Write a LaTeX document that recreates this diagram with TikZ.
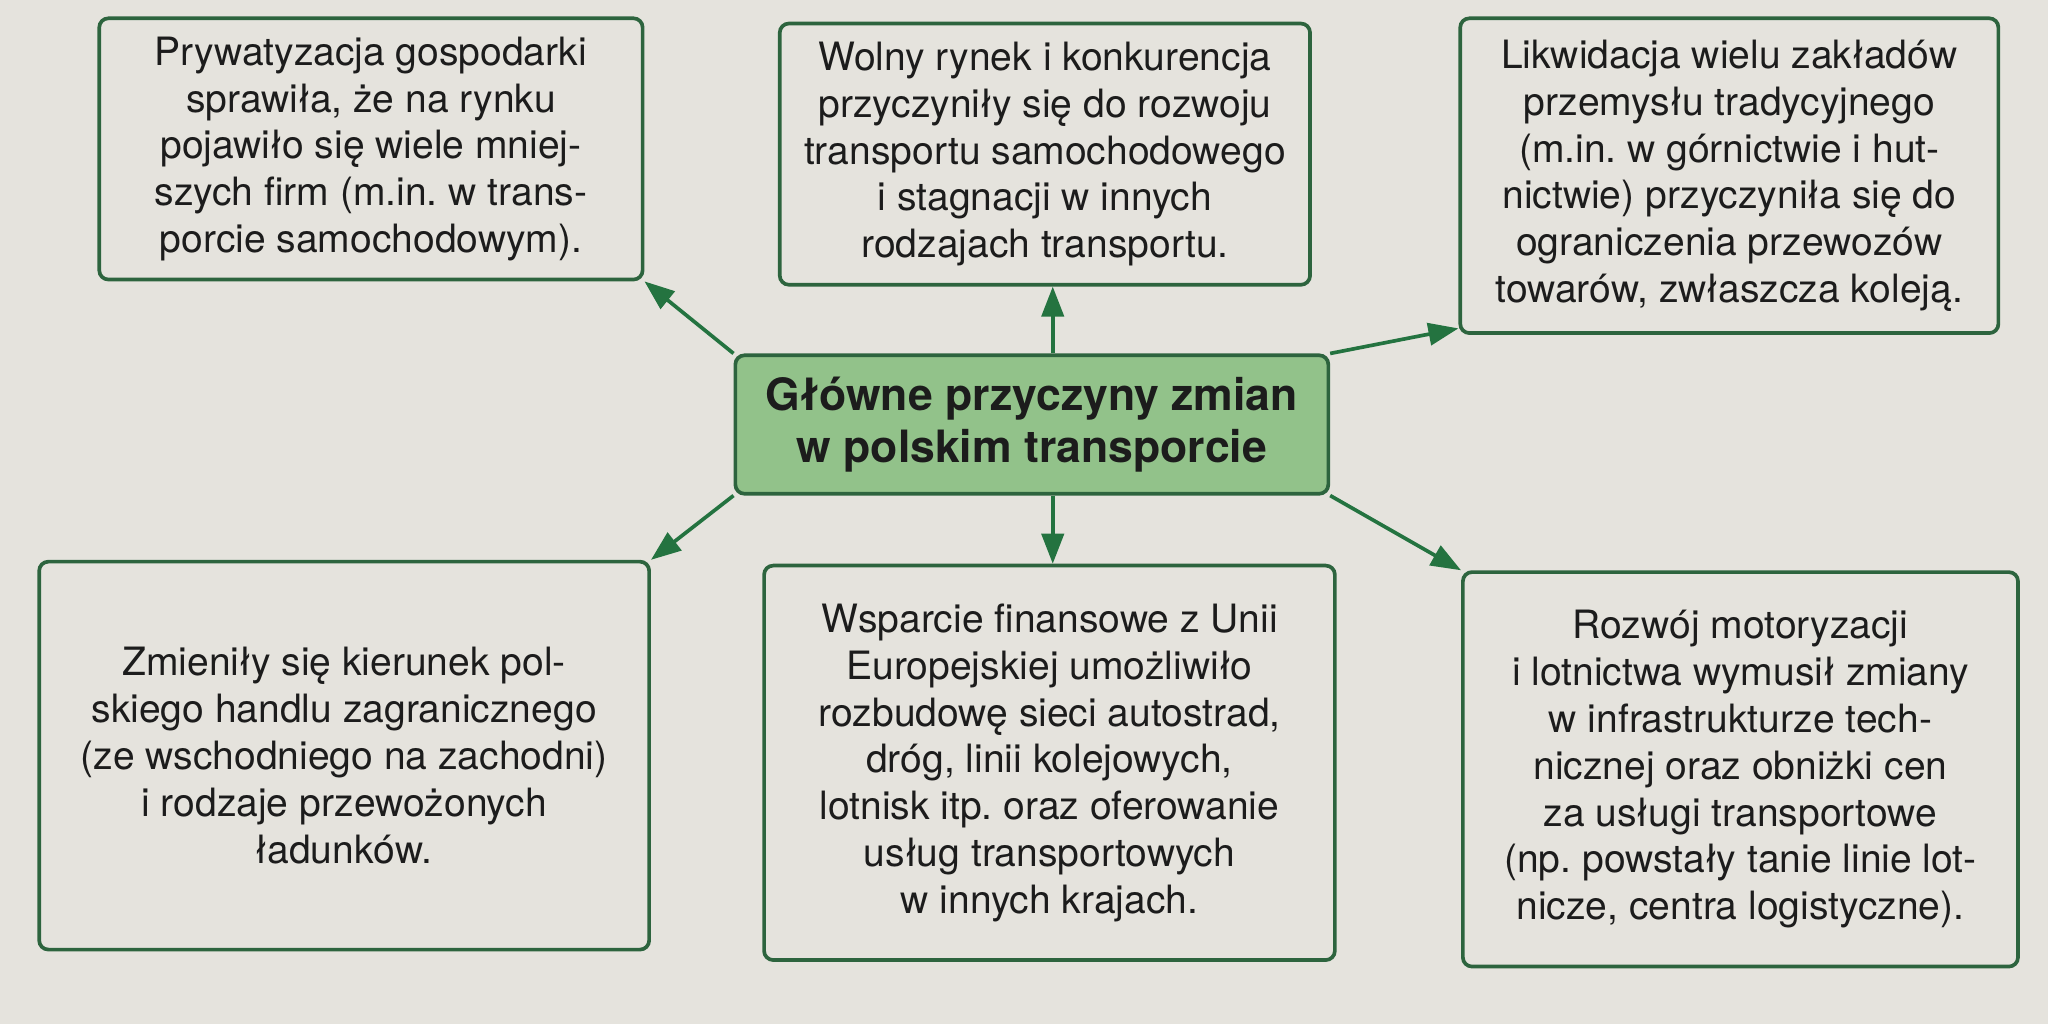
\documentclass[tikz,border=0pt]{standalone}
\usepackage{fontspec}
\setmainfont{TeX Gyre Heros}
\usetikzlibrary{arrows.meta,calc}
\frenchspacing
\definecolor{paper}{RGB}{229,227,221}
\definecolor{bordergreen}{RGB}{45,100,62}
\definecolor{arrowgreen}{RGB}{36,115,64}
\definecolor{centerfill}{RGB}{146,194,138}
\definecolor{ink}{RGB}{28,28,28}
\tikzset{
  infobox/.style={draw=bordergreen, line width=0.8pt, rounded corners=0.7mm, fill=paper,
    align=center, inner sep=0pt, text=ink, font=\fontsize{8.5}{10.2}\selectfont},
  titlebox/.style={draw=bordergreen, line width=0.8pt, rounded corners=0.7mm, fill=centerfill,
    align=center, inner sep=0pt, text=ink, font=\fontsize{9.7}{11.4}\selectfont\bfseries},
  linkarrow/.style={draw=arrowgreen, line width=0.8pt, -{Triangle[length=2.3mm,width=1.7mm]}, arrowgreen}
}
\begin{document}
\begin{tikzpicture}
\fill[paper] (0,0) rectangle (15.68,-7.84);
\useasboundingbox (0,0) rectangle (15.68,-7.84);

\node[titlebox, minimum width=4.54cm, minimum height=1.06cm] (c) at (7.90,-3.25)
  {Główne przyczyny zmian\\w polskim transporcie};

\node[infobox, minimum width=4.16cm, minimum height=2.00cm] (tl) at (2.84,-1.14)
  {Prywatyzacja gospodarki\\sprawiła, że na rynku\\pojawiło się wiele mniej-\\szych firm (m.in. w trans-\\porcie samochodowym).};

\node[infobox, minimum width=4.06cm, minimum height=2.00cm] (tm) at (8.00,-1.18)
  {Wolny rynek i konkurencja\\przyczyniły się do rozwoju\\transportu samochodowego\\i stagnacji w innych\\rodzajach transportu.};

\node[infobox, minimum width=4.12cm, minimum height=2.41cm] (tr) at (13.24,-1.345)
  {Likwidacja wielu zakładów\\przemysłu tradycyjnego\\(m.in. w górnictwie i hut-\\nictwie) przyczyniła się do\\ograniczenia przewozów\\towarów, zwłaszcza koleją.};

\node[infobox, minimum width=4.67cm, minimum height=2.97cm] (bl) at (2.635,-5.785)
  {Zmieniły się kierunek pol-\\skiego handlu zagranicznego\\(ze wschodniego na zachodni)\\i rodzaje przewożonych\\ładunków.};

\node[infobox, minimum width=4.37cm, minimum height=3.02cm] (bm) at (8.035,-5.84)
  {Wsparcie finansowe z Unii\\Europejskiej umożliwiło\\rozbudowę sieci autostrad,\\dróg, linii kolejowych,\\lotnisk itp. oraz oferowanie\\usług transportowych\\w innych krajach.};

\node[infobox, minimum width=4.25cm, minimum height=3.02cm] (br) at (13.325,-5.89)
  {Rozwój motoryzacji\\i lotnictwa wymusił zmiany\\w infrastrukturze tech-\\nicznej oraz obniżki cen\\za usługi transportowe\\(np. powstały tanie linie lot-\\nicze, centra logistyczne).};

\draw[linkarrow] (c.north west) -- (tl.south east);
\draw[linkarrow] ($(c.north)+(0.16,0)$) -- ($(c.north |- tm.south)+(0.16,0)$);
\draw[linkarrow] (c.north east) -- ($(tr.south west)+(0,0.05)$);
\draw[linkarrow] (c.south west) -- (bl.north east);
\draw[linkarrow] ($(c.south)+(0.16,0)$) -- ($(c.south |- bm.north)+(0.16,0)$);
\draw[linkarrow] (c.south east) -- (br.north west);
\end{tikzpicture}
\end{document}
